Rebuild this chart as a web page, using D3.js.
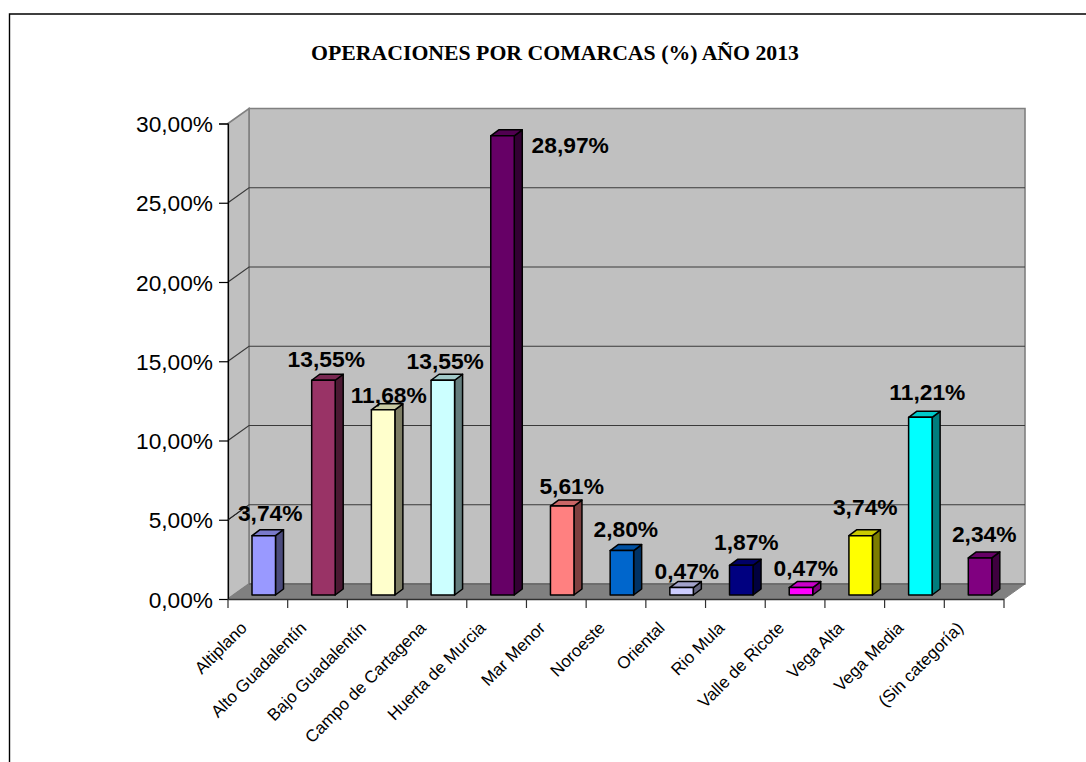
<!DOCTYPE html>
<html><head><meta charset="utf-8">
<script src="https://cdn.jsdelivr.net/npm/d3@7"></script>
<style>html,body{margin:0;padding:0;background:#fff}svg{display:block}</style>
</head><body><svg id="chart" width="1086" height="762"></svg>
<script>
const categories = ["Altiplano","Alto Guadalentín","Bajo Guadalentín","Campo de Cartagena","Huerta de Murcia","Mar Menor","Noroeste","Oriental","Rio Mula","Valle de Ricote","Vega Alta","Vega Media","(Sin categoría)"];
const values = [3.74,13.55,11.68,13.55,28.97,5.61,2.80,0.47,1.87,0.47,3.74,11.21,2.34];
const barColors = ["#9999ff","#993366","#ffffcc","#ccffff","#660066","#ff8080","#0066cc","#ccccff","#000080","#ff00ff","#ffff00","#00ffff","#800080"];
const yTicks = [0,5,10,15,20,25,30];
// Data label anchor offsets, in pixels, relative to each bar's top centre
const labelDx = [6.5,2.8,5.6,2.4,67.7,9.5,3.9,5.2,5,4.8,4.6,7,4.2];
const labelDy = [-14.7,-13.5,-6.9,-11.2,17.2,-12.5,-13.6,-8.6,-15.4,-11.6,-20.7,-17.3,-16.2];

const svg = d3.select("#chart");
const x = d3.scaleBand().domain(categories).range([228,1004]);
const y = d3.scaleLinear().domain([0,30]).range([599,123.5]);
const depth = {x:21,y:-15};
const barDepth = {x:8,y:-6};
const barBase = {x:24,y:-4};
const barW = 23.5;
const fmt = v => v.toFixed(2).replace(".",",")+"%";
const sans = "'Liberation Sans',Arial,sans-serif";

// Frame: only the top and left edges are inside the page
svg.append("path").attr("d","M9.5 762V14H1086").attr("fill","none").attr("stroke","#000").attr("stroke-width",1.4);

// Title
svg.append("text").attr("x",555).attr("y",60).attr("text-anchor","middle")
  .attr("font-family","'Liberation Serif',serif").attr("font-weight","bold").attr("font-size",20)
  .attr("textLength",488).attr("lengthAdjust","spacingAndGlyphs")
  .text("OPERACIONES POR COMARCAS (%) AÑO 2013");

const [xL,xR] = x.range();
const [yB,yT] = y.range();
const gray = "#808080";

// Back wall, side wall and floor
svg.append("path").attr("d",`M${xL+depth.x} ${yT+depth.y}H${xR+depth.x}V${yB+depth.y}H${xL+depth.x}Z`).attr("fill","#c0c0c0").attr("stroke",gray).attr("stroke-width",1.6);
svg.append("path").attr("d",`M${xL} ${yT}L${xL+depth.x} ${yT+depth.y}V${yB+depth.y}L${xL} ${yB}Z`).attr("fill","#c0c0c0").attr("stroke",gray).attr("stroke-width",1.6);
svg.append("path").attr("d",`M${xL} ${yB}L${xL+depth.x} ${yB+depth.y}H${xR+depth.x}L${xR} ${yB}Z`).attr("fill","#808080").attr("stroke",gray).attr("stroke-width",1);
svg.append("line").attr("x1",xL+depth.x).attr("x2",xR+depth.x).attr("y1",yB+depth.y).attr("y2",yB+depth.y).attr("stroke","#666").attr("stroke-width",1.4);

// Gridlines on both walls
yTicks.slice(1,-1).forEach(t=>{
  svg.append("path").attr("d",`M${xL} ${y(t)}L${xL+depth.x} ${y(t)+depth.y}H${xR+depth.x}`).attr("fill","none").attr("stroke","#3a3a3a").attr("stroke-width",1.2);
});

// Value axis
const yAxis = svg.append("g").attr("transform",`translate(${xL},0)`)
  .call(d3.axisLeft(y).tickValues(yTicks).tickSize(9).tickPadding(6).tickFormat(fmt));
yAxis.selectAll("path").attr("stroke","#000").attr("stroke-width",1.2);
yAxis.selectAll("line").attr("stroke","#000").attr("stroke-width",1.2);
yAxis.selectAll("text").attr("font-family",sans).attr("font-size",22.7).attr("fill","#000").attr("dy","0.36em");

// Category axis
svg.append("line").attr("x1",xL).attr("x2",xR).attr("y1",yB+.5).attr("y2",yB+.5).attr("stroke","#303030").attr("stroke-width",1.6);
const edges = categories.map(c=>x(c)).concat(xR);
svg.selectAll(".xtick").data(edges).join("line").attr("class","xtick")
  .attr("x1",d=>d).attr("x2",d=>d).attr("y1",yB).attr("y2",yB+9).attr("stroke","#303030").attr("stroke-width",1.2);
svg.selectAll(".xlab").data(categories).join("text").attr("class","xlab")
  .attr("transform",c=>`translate(${x(c)+x.bandwidth()/2-10},${yB+30}) rotate(-45)`)
  .attr("text-anchor","end").attr("font-family",sans).attr("font-size",17).attr("fill","#000").text(c=>c);

// 3D bars: front face, top face and darker side face
const shade = (c,k)=>d3.rgb(c).darker(k).formatHex();
const bars = svg.selectAll(".bar").data(categories).join("g").attr("class","bar")
  .attr("stroke","#000").attr("stroke-width",1.5).attr("stroke-linejoin","round");
bars.each(function(c,i){
  const g = d3.select(this);
  const x0 = x(c)+barBase.x, x1 = x0+barW;
  const yb = y(0)+barBase.y, yt = yb-(y(0)-y(values[i]));
  g.append("path").attr("d",`M${x1} ${yt}L${x1+barDepth.x} ${yt+barDepth.y}V${yb+barDepth.y}L${x1} ${yb}Z`).attr("fill",shade(barColors[i],2));
  g.append("path").attr("d",`M${x0} ${yt}L${x0+barDepth.x} ${yt+barDepth.y}H${x1+barDepth.x}L${x1} ${yt}Z`).attr("fill",shade(barColors[i],0.65));
  g.append("rect").attr("x",x0).attr("y",yt).attr("width",barW).attr("height",yb-yt).attr("fill",barColors[i]);
});

// Leader line for the first label
svg.append("line").attr("x1",228).attr("y1",520).attr("x2",243).attr("y2",509).attr("stroke","#222").attr("stroke-width",1);

// Data labels
svg.selectAll(".dlab").data(categories).join("text").attr("class","dlab")
  .attr("x",(c,i)=>x(c)+barBase.x+barW/2+labelDx[i])
  .attr("y",(c,i)=>y(0)+barBase.y-(y(0)-y(values[i]))+labelDy[i])
  .attr("text-anchor","middle").attr("font-family",sans).attr("font-weight","bold").attr("font-size",22.8).attr("fill","#000")
  .text((c,i)=>fmt(values[i]));
</script></body></html>
